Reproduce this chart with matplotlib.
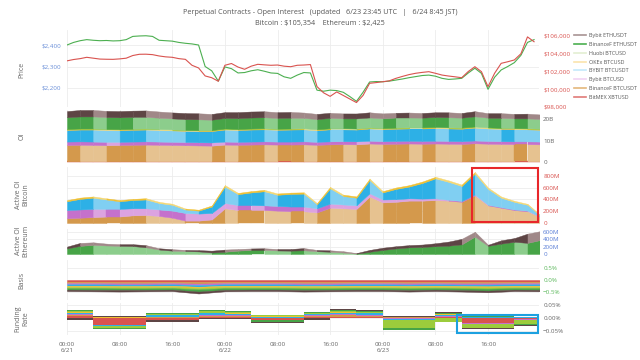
import numpy as np
import matplotlib.pyplot as plt
from matplotlib.lines import Line2D
from matplotlib.patches import Rectangle

plt.rcParams['font.family'] = ['Open Sans', 'DejaVu Sans']

# ---- data ----
# hourly prices, 6/21 00:00 -> 6/23 23:00 (UTC)
eth_price = [2400, 2412, 2420, 2425, 2422, 2420, 2421, 2419, 2420, 2425,
             2440, 2442, 2443, 2440, 2422, 2420, 2418, 2412, 2408, 2405,
             2400, 2300, 2280, 2232, 2298, 2290, 2270, 2272, 2280, 2285,
             2278, 2270, 2268, 2252, 2245, 2260, 2272, 2270, 2190, 2185,
             2190, 2188, 2180, 2160, 2138, 2180, 2228, 2230, 2229, 2232,
             2237, 2242, 2248, 2253, 2258, 2260, 2255, 2245, 2240, 2242,
             2245, 2270, 2292, 2268, 2194, 2250, 2284, 2300, 2318, 2352,
             2412, 2425]
btc_price = [103200, 103350, 103450, 103600, 103500, 103400, 103380, 103370, 103420, 103500,
             103800, 103940, 103950, 103900, 103750, 103650, 103600, 103450, 103370, 102700,
             102400, 101500, 101300, 100900, 102700, 102900, 102500, 102250, 102600, 102810,
             102750, 102700, 102730, 102600, 102540, 102700, 102730, 102780, 100300, 99600,
             99200, 99700, 99300, 98900, 98500, 99300, 100670, 100750, 100850, 100950,
             101230, 101450, 101650, 101800, 101900, 101980, 101800, 101600, 101490, 101400,
             101300, 102000, 102540, 101980, 100290, 101800, 102920, 103100, 103300, 104000,
             105900, 105354]

exchanges = ['BitMEX XBTUSD', 'BinanceF BTCUSDT', 'Bybit BTCUSD', 'BYBIT BTCUSDT',
             'OKEx BTCUSD', 'Huobi BTCUSD', 'BinanceF ETHUSDT', 'Bybit ETHUSDT']

# open interest every 2 hours (billions USD), stacked bottom -> top
oi_bitmex = [0.3, 0.3, 0.3, 0.3, 0.3, 0.3, 0.3, 0.3, 0.3, 0.3, 0.3, 0.3, 0.3, 0.3, 0.3, 0.3, 0.3, 0.3, 0.3,
             0.3, 0.3, 0.3, 0.3, 0.3, 0.3, 0.3, 0.3, 0.3, 0.3, 0.3, 0.3, 0.3, 0.3, 0.3, 0.3, 0.3, 0.3]
oi_binance_btc = [7.6, 7.7, 7.6, 7.5, 7.6, 7.7, 7.8, 7.7, 7.6, 7.5, 7.4, 7.3, 7.8, 7.7, 7.8, 7.9, 7.8, 7.8, 7.9,
                  7.7, 7.9, 8.0, 7.9, 8.3, 8.1, 8.2, 8.3, 8.2, 8.3, 8.2, 8.1, 8.4, 8.2, 8.1, 8.0, 8.0, 7.9]
oi_bybit_btcusd = [1.6, 1.6, 1.6, 1.6, 1.5, 1.5, 1.5, 1.5, 1.5, 1.5, 1.5, 1.5, 1.4, 1.4, 1.4, 1.4, 1.4, 1.4, 1.4,
                   1.4, 1.4, 1.4, 1.4, 1.3, 1.3, 1.3, 1.3, 1.3, 1.3, 1.3, 1.3, 1.3, 1.3, 1.3, 1.3, 1.3, 1.3]
oi_bybit_btcusdt = [5.4, 5.5, 5.6, 5.5, 5.4, 5.5, 5.5, 5.4, 5.3, 5.2, 5.2, 5.3, 5.6, 5.5, 5.6, 5.6, 5.5, 5.6, 5.6,
                    5.4, 5.6, 5.5, 5.5, 5.7, 5.6, 5.7, 5.7, 5.8, 5.9, 5.8, 5.8, 6.0, 5.8, 5.7, 5.7, 5.6, 5.5]
oi_okex = [0.35, 0.35, 0.36, 0.35, 0.34, 0.35, 0.35, 0.34, 0.33, 0.33, 0.32, 0.33, 0.36, 0.35, 0.35, 0.36, 0.35, 0.35, 0.36,
           0.34, 0.35, 0.35, 0.34, 0.37, 0.36, 0.36, 0.37, 0.37, 0.38, 0.37, 0.37, 0.39, 0.37, 0.36, 0.36, 0.35, 0.35]
oi_huobi = [0.15, 0.15, 0.15, 0.15, 0.15, 0.15, 0.15, 0.15, 0.14, 0.14, 0.14, 0.14, 0.15, 0.15, 0.15, 0.15, 0.15, 0.15, 0.15,
            0.14, 0.15, 0.15, 0.14, 0.15, 0.15, 0.15, 0.15, 0.15, 0.16, 0.15, 0.15, 0.16, 0.15, 0.15, 0.15, 0.15, 0.15]
oi_binance_eth = [5.4, 5.6, 5.6, 5.5, 5.5, 5.5, 5.4, 5.2, 5.1, 5.0, 5.0, 4.8, 4.9, 5.0, 5.1, 5.1, 5.0, 5.0, 4.8,
                  4.7, 4.8, 4.6, 4.7, 4.6, 4.5, 4.7, 4.6, 4.5, 4.6, 4.7, 4.6, 4.7, 4.5, 4.6, 4.5, 4.6, 4.5]
oi_bybit_eth = [2.9, 3.0, 3.0, 2.9, 2.9, 2.9, 3.0, 2.9, 2.8, 2.8, 2.8, 2.7, 2.7, 2.8, 2.8, 2.8, 2.7, 2.7, 2.5,
                2.4, 2.4, 2.3, 2.3, 2.4, 2.3, 2.2, 2.3, 2.2, 2.2, 2.3, 2.2, 2.4, 2.1, 2.2, 2.1, 2.2, 2.1]

# active OI bitcoin every 2 hours (millions USD)
act_binance_btc = [80, 90, 100, 110, 110, 130, 135, 120, 90, 40, 40, 60, 250, 220, 220, 220, 210, 200, 200,
                   180, 260, 250, 240, 450, 350, 360, 380, 380, 390, 380, 360, 470, 300, 260, 220, 200, 100]
act_bybit_btcusd = [140, 140, 140, 130, 130, 120, 115, 110, 120, 130, 120, 110, 90, 85, 85, 80, 80, 80, 80,
                    70, 70, 65, 60, 55, 50, 45, 40, 35, 30, 15, 15, 15, 10, 10, 10, 10, 5]
act_bybit_btcusdt = [150, 180, 190, 160, 130, 140, 150, 110, 100, 60, 50, 110, 280, 185, 215, 240, 190, 215, 220,
                     70, 260, 145, 130, 225, 120, 175, 200, 265, 340, 305, 255, 355, 270, 160, 130, 100, 15]
act_okex = [20, 22, 22, 20, 20, 20, 22, 20, 18, 16, 16, 18, 25, 22, 22, 24, 22, 22, 22,
            18, 24, 22, 22, 25, 22, 24, 24, 25, 26, 25, 24, 28, 22, 20, 18, 16, 12]

# active OI ethereum every 2 hours (millions USD)
act_binance_eth = [150, 220, 245, 230, 220, 215, 180, 120, 90, 80, 70, 40, 60, 90, 110, 110, 95, 90, 100,
                   75, 60, 40, 10, 60, 110, 150, 180, 190, 210, 225, 260, 470, 220, 280, 330, 300, 380]
act_bybit_eth = [50, 80, 70, 50, 45, 50, 60, 35, 40, 30, 35, 50, 60, 45, 40, 45, 40, 45, 60,
                 35, 40, 35, 15, 50, 60, 60, 60, 65, 80, 110, 150, 130, 30, 90, 100, 250, 240]

# basis every 4 hours (%), stacked downward from 0
basis = {
    'BitMEX XBTUSD':    [-0.07, -0.07, -0.08, -0.07, -0.07, -0.08, -0.07, -0.07, -0.07, -0.08, -0.07, -0.07, -0.07, -0.08, -0.07, -0.07, -0.08, -0.07, -0.07],
    'BinanceF BTCUSDT': [-0.06, -0.06, -0.06, -0.07, -0.06, -0.07, -0.06, -0.06, -0.06, -0.06, -0.07, -0.06, -0.06, -0.06, -0.06, -0.07, -0.06, -0.06, -0.06],
    'Bybit BTCUSD':     [-0.05, -0.05, -0.05, -0.05, -0.05, -0.06, -0.05, -0.05, -0.05, -0.05, -0.05, -0.05, -0.05, -0.05, -0.05, -0.05, -0.05, -0.05, -0.05],
    'BYBIT BTCUSDT':    [-0.06, -0.06, -0.06, -0.06, -0.06, -0.07, -0.06, -0.06, -0.06, -0.06, -0.06, -0.06, -0.06, -0.06, -0.06, -0.06, -0.07, -0.06, -0.06],
    'OKEx BTCUSD':      [-0.05, -0.05, -0.05, -0.05, -0.05, -0.05, -0.05, -0.05, -0.05, -0.05, -0.05, -0.05, -0.05, -0.05, -0.05, -0.05, -0.05, -0.05, -0.05],
    'Huobi BTCUSD':     [-0.05, -0.05, -0.05, -0.05, -0.05, -0.06, -0.05, -0.05, -0.05, -0.05, -0.05, -0.05, -0.05, -0.05, -0.05, -0.05, -0.05, -0.05, -0.05],
    'BinanceF ETHUSDT': [-0.06, -0.07, -0.06, -0.06, -0.06, -0.09, -0.07, -0.06, -0.06, -0.07, -0.06, -0.06, -0.06, -0.07, -0.06, -0.07, -0.08, -0.06, -0.07],
    'Bybit ETHUSDT':    [-0.06, -0.06, -0.07, -0.06, -0.06, -0.08, -0.06, -0.06, -0.06, -0.06, -0.06, -0.06, -0.06, -0.06, -0.06, -0.06, -0.07, -0.06, -0.06],
}

# funding rate per 4-hour block (%)
funding = {
    'BitMEX XBTUSD':    [0.010, -0.025, -0.025, -0.008, -0.008, 0.005, 0.005, -0.005, -0.005, 0.004, 0.006, 0.006, 0.002, 0.002, 0.004, -0.018, -0.018, -0.004],
    'BinanceF BTCUSDT': [0.004, 0.003, 0.003, 0.004, 0.004, 0.005, 0.004, 0.003, 0.003, 0.004, 0.005, 0.004, 0.002, 0.002, 0.003, 0.002, 0.002, 0.002],
    'Bybit BTCUSD':     [0.003, -0.002, -0.002, 0.003, 0.003, 0.004, 0.003, -0.003, -0.003, 0.003, 0.004, 0.004, -0.004, -0.004, 0.003, -0.002, -0.002, -0.003],
    'BYBIT BTCUSDT':    [0.004, -0.003, -0.003, 0.004, 0.004, 0.005, 0.004, 0.003, 0.003, 0.004, 0.006, 0.005, -0.004, -0.004, 0.004, 0.002, 0.002, 0.002],
    'OKEx BTCUSD':      [0.003, 0.003, 0.003, 0.003, 0.003, 0.003, 0.003, 0.002, 0.002, 0.003, 0.003, 0.003, 0.002, 0.002, 0.003, 0.002, 0.002, 0.002],
    'Huobi BTCUSD':     [0.004, -0.006, -0.006, 0.004, 0.004, 0.006, 0.006, 0.004, 0.004, 0.004, 0.005, 0.004, -0.030, -0.030, -0.015, -0.018, -0.018, -0.015],
    'BinanceF ETHUSDT': [0.005, -0.004, -0.004, 0.003, 0.003, 0.004, 0.003, -0.006, -0.006, 0.003, 0.003, 0.003, -0.006, -0.006, 0.004, 0.003, 0.003, -0.004],
    'Bybit ETHUSDT':    [-0.008, 0.002, 0.002, -0.006, -0.006, -0.004, -0.004, -0.004, -0.004, -0.006, 0.005, 0.004, 0.004, 0.004, 0.003, -0.004, -0.004, -0.003],
}

xtick_labels = ['00:00\n6/21', '08:00', '16:00', '00:00\n6/22', '08:00', '16:00',
                '00:00\n6/23', '08:00', '16:00']

# ---- styling ----
# (dark, light) shade per exchange
pal = {
    'BitMEX XBTUSD': ('#d9534f', '#e88a87'),
    'BinanceF BTCUSDT': ('#d4994c', '#e6c290'),
    'Bybit BTCUSD': ('#c571cc', '#dca3e0'),
    'BYBIT BTCUSDT': ('#2db0e6', '#80cff2'),
    'OKEx BTCUSD': ('#f0c030', '#f5d772'),
    'Huobi BTCUSD': ('#9ccc3c', '#c7e39a'),
    'BinanceF ETHUSDT': ('#47a447', '#8ccd8c'),
    'Bybit ETHUSDT': ('#5e4545', '#a08888'),
}
legend_colors = {
    'Bybit ETHUSDT': '#a89494', 'BinanceF ETHUSDT': '#4caf50', 'Huobi BTCUSD': '#e3efd2',
    'OKEx BTCUSD': '#fbe4ad', 'BYBIT BTCUSDT': '#c4e9fb', 'Bybit BTCUSD': '#f1d3f3',
    'BinanceF BTCUSDT': '#e4b77c', 'BitMEX XBTUSD': '#e07a78',
}
gray = '#666666'
W_PX, H_PX = 640, 360
X0, X1 = 67, 539
END_H = 71.75

t1 = np.arange(len(eth_price))
t2 = np.arange(len(oi_binance_btc)) * 2
t4 = np.arange(len(basis['OKEx BTCUSD'])) * 4
t4_blocks = np.arange(len(funding['OKEx BTCUSD'])) * 4

fig = plt.figure(figsize=(6.4, 3.6), dpi=100)


def panel(top, bot):
    ax = fig.add_axes([X0 / W_PX, 1 - bot / H_PX, (X1 - X0) / W_PX, (bot - top) / H_PX])
    ax.set_xlim(0, END_H)
    ax.set_xticks(np.arange(0, 72, 8))
    for s in ax.spines.values():
        s.set_visible(False)
    ax.grid(True, color='#ececec', lw=0.6)
    ax.set_axisbelow(True)
    ax.tick_params(length=0, labelsize=4.5, labelbottom=False, pad=3, colors=gray)
    return ax


def right_ticks(ax, ticks, labels, color):
    ax.yaxis.tick_right()
    ax.set_yticks(ticks)
    ax.set_yticklabels(labels)
    ax.tick_params(axis='y', labelcolor=color, pad=3)


def stripe_stack(ax, t, layers, names):
    base = np.zeros(len(t))
    for vals, name in zip(layers, names):
        vals = np.asarray(vals, float)
        top = base + vals
        dark, light = pal[name]
        for i in range(len(t) - 1):
            c = dark if vals[i + 1] >= vals[i] else light
            ax.fill_between(t[i:i + 2], base[i:i + 2], top[i:i + 2], color=c, lw=0.3, ec=c)
        base = top


# title
fig.text(0.5, 1 - 13 / H_PX, 'Perpetual Contracts - Open Interest   (updated   6/23 23:45 UTC   |   6/24 8:45 JST)',
         ha='center', va='center', fontsize=5.2, color='#555555')
fig.text(0.5, 1 - 23 / H_PX, 'Bitcoin : \\$105,354    Ethereum : \\$2,425',
         ha='center', va='center', fontsize=5.2, color='#555555')

# price
ax_eth = panel(30, 107)
ax_eth.plot(t1, eth_price, color='#4caf50', lw=0.8)
ax_eth.set_ylim(2111.6, 2469.8)
ax_eth.set_yticks([2200, 2300, 2400])
ax_eth.set_yticklabels(['\\$2,200', '\\$2,300', '\\$2,400'])
ax_eth.tick_params(axis='y', labelcolor='#6a8fd8', pad=4)
ax_btc = ax_eth.twinx()
ax_btc.set_xlim(0, END_H)
for s in ax_btc.spines.values():
    s.set_visible(False)
ax_btc.plot(t1, btc_price, color='#d9534f', lw=0.8)
ax_btc.set_ylim(98000, 106676)
ax_btc.set_yticks([98000, 100000, 102000, 104000, 106000])
ax_btc.set_yticklabels(['\\$98,000', '\\$100,000', '\\$102,000', '\\$104,000', '\\$106,000'])
ax_btc.tick_params(length=0, labelsize=4.5, labelcolor='#d9534f', pad=3)

# open interest
ax_oi = panel(110, 162)
oi_layers = [oi_bitmex, oi_binance_btc, oi_bybit_btcusd, oi_bybit_btcusdt,
             oi_okex, oi_huobi, oi_binance_eth, oi_bybit_eth]
stripe_stack(ax_oi, t2, oi_layers, exchanges)
ax_oi.set_ylim(0, 24.2)
right_ticks(ax_oi, [0, 10, 20], ['0', '10B', '20B'], gray)

# active OI bitcoin
ax_ab = panel(167, 223)
stripe_stack(ax_ab, t2, [act_binance_btc, act_bybit_btcusd, act_bybit_btcusdt, act_okex],
             ['BinanceF BTCUSDT', 'Bybit BTCUSD', 'BYBIT BTCUSDT', 'OKEx BTCUSD'])
ax_ab.set_ylim(0, 953)
right_ticks(ax_ab, [0, 200, 400, 600, 800], ['0', '200M', '400M', '600M', '800M'], '#d9534f')
ax_ab.add_patch(Rectangle((61.5, 0.01), END_H - 61.6, 0.98, transform=ax_ab.get_xaxis_transform(),
                          fill=False, ec='#e8262a', lw=1.5, clip_on=False, zorder=5))

# active OI ethereum
ax_ae = panel(229, 254)
stripe_stack(ax_ae, t2, [act_binance_eth, act_bybit_eth], ['BinanceF ETHUSDT', 'Bybit ETHUSDT'])
ax_ae.set_ylim(0, 675)
right_ticks(ax_ae, [0, 200, 400, 600], ['0', '200M', '400M', '600M'], '#5b7fd6')

# basis
ax_bs = panel(260, 300)
base = np.zeros(len(t4))
for name in exchanges:
    vals = np.asarray(basis[name])
    ax_bs.fill_between(t4, base, base + vals, color=pal[name][0], lw=0.3, ec=pal[name][0])
    base = base + vals
ax_bs.set_ylim(-0.83, 0.83)
right_ticks(ax_bs, [-0.5, 0, 0.5], ['\u22120.5%', '0.0%', '0.5%'], '#5cb85c')

# funding rate
ax_fr = panel(303, 335)
pos = np.zeros(len(t4_blocks))
neg = np.zeros(len(t4_blocks))
for name in exchanges:
    vals = np.asarray(funding[name])
    bottom = np.where(vals >= 0, pos, neg)
    ax_fr.bar(t4_blocks, vals, width=4, bottom=bottom, align='edge', color=pal[name][0], lw=0)
    pos = pos + np.clip(vals, 0, None)
    neg = neg + np.clip(vals, None, 0)
ax_fr.set_ylim(-0.064, 0.059)
right_ticks(ax_fr, [-0.05, 0, 0.05], ['\u22120.05%', '0.00%', '0.05%'], gray)
ax_fr.add_patch(Rectangle((59.3, -0.056), 71.6 - 59.3, 0.069, fill=False, ec='#1da1e0',
                          lw=1.5, clip_on=False, zorder=5))
ax_fr.tick_params(axis='x', labelbottom=True, pad=5)
ax_fr.set_xticklabels(xtick_labels)

# axis titles on the left
for text, ypx in [('Price', 70), ('OI', 136), ('Active OI\nBitcoin', 195),
                  ('Active OI\nEthereum', 241), ('Basis', 280), ('Funding\nRate', 319)]:
    fig.text(22 / W_PX, 1 - ypx / H_PX, text, rotation=90, ha='center', va='center',
             fontsize=5, color=gray, linespacing=1.1)

# legend
handles = [Line2D([], [], color=legend_colors[n], lw=1.2) for n in exchanges[::-1]]
fig.legend(handles, exchanges[::-1], loc='upper left', bbox_to_anchor=(572 / W_PX, 1 - 31 / H_PX),
           frameon=False, fontsize=3.9, handlelength=2.2, handletextpad=0.6, labelspacing=0.7,
           borderaxespad=0, labelcolor='#555555')

fig.savefig('out.png', dpi=100)
